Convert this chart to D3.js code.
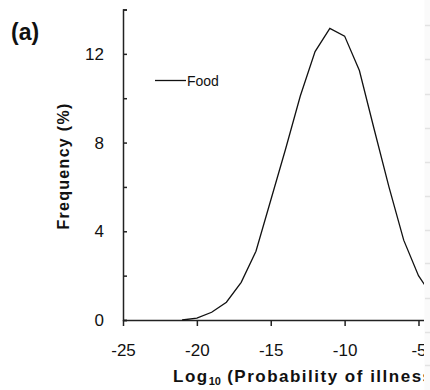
<!DOCTYPE html>
<html>
<head>
<meta charset="utf-8">
<script src="https://cdn.jsdelivr.net/npm/d3@7"></script>
<style>
  body { margin: 0; background: #fff; }
  svg { display: block; font-family: "Liberation Sans", Arial, sans-serif; }
</style>
</head>
<body>
<svg id="chart" width="430" height="390"></svg>
<script>
// log10 probability of illness (x) vs frequency % (y)
const logProb = [-21, -20, -19, -18, -17, -16, -15, -14, -13, -12, -11, -10, -9, -8, -7, -6, -5, -4];
const freq = [0, 0.08, 0.35, 0.8, 1.7, 3.1, 5.4, 7.7, 10.1, 12.1, 13.15, 12.8, 11.25, 8.6, 6.0, 3.6, 2.0, 1.0];
const xTicks = [-25, -20, -15, -10, -5];
const yTicks = [0, 2, 4, 6, 8, 10, 12, 14];
const seriesName = "Food";
// faint marks of the neighbouring panel at the right edge
const edgeMarks = [25, 59, 94, 128, 162, 196, 230, 263, 298, 332, 365];

const svg = d3.select("#chart");
const clipRight = 424;

const x = d3.scaleLinear().domain([-25, -4.6]).range([123, 424.4]);
const y = d3.scaleLinear().domain([0, 14]).range([320, 9.5]);

svg.append("defs").append("clipPath").attr("id", "clip")
  .append("rect").attr("x", 0).attr("y", 0).attr("width", clipRight).attr("height", 390);

const g = svg.append("g").attr("clip-path", "url(#clip)");

// x axis
const xAxis = g.append("g")
  .attr("transform", `translate(0,${y(0)})`)
  .call(d3.axisBottom(x).tickValues(xTicks).tickSize(6).tickSizeOuter(0).tickPadding(18)
    .tickFormat(d => String(d)));
xAxis.select(".domain").attr("stroke", "#222").attr("stroke-width", 1.5);
xAxis.selectAll(".tick line").attr("stroke", "#222").attr("stroke-width", 1.5);
xAxis.selectAll("text").attr("font-size", 17).attr("fill", "#111")
  .attr("font-family", "'Liberation Sans', Arial, sans-serif");

// y axis (ticks inward)
const yAxis = g.append("g")
  .attr("transform", `translate(${x(-25)},0)`)
  .call(d3.axisLeft(y).tickValues(yTicks).tickSize(-4).tickSizeOuter(-4).tickPadding(19)
    .tickFormat(d => d % 4 === 0 && d < 14 ? String(d) : ""));
yAxis.select(".domain").attr("stroke", "#222").attr("stroke-width", 1.5);
yAxis.selectAll(".tick line").attr("stroke", "#222").attr("stroke-width", 1.5);
yAxis.selectAll("text").attr("font-size", 17).attr("fill", "#111")
  .attr("font-family", "'Liberation Sans', Arial, sans-serif");

// curve
const line = d3.line().x((d, i) => x(logProb[i])).y(d => y(d));
g.append("path")
  .datum(freq)
  .attr("d", line)
  .attr("fill", "none")
  .attr("stroke", "#111")
  .attr("stroke-width", 1.3);

// legend
g.append("line").attr("x1", 155).attr("x2", 186).attr("y1", 80.5).attr("y2", 80.5)
  .attr("stroke", "#111").attr("stroke-width", 1.3);
g.append("text").attr("x", 187).attr("y", 86).attr("font-size", 14).attr("fill", "#111")
  .text(seriesName);

// panel letter
g.append("text").attr("x", 11).attr("y", 40).attr("font-size", 23).attr("font-weight", "bold")
  .attr("fill", "#111").text("(a)");

// y title
g.append("text")
  .attr("transform", "translate(69,166) rotate(-90)")
  .attr("text-anchor", "middle")
  .attr("font-size", 16).attr("font-weight", "bold").attr("letter-spacing", 1.3).attr("fill", "#111")
  .text("Frequency (%)");

// x title
const xt = g.append("text").attr("x", 173).attr("y", 382)
  .attr("font-size", 17).attr("font-weight", "bold").attr("letter-spacing", 1.5).attr("fill", "#111");
xt.append("tspan").text("Log");
xt.append("tspan").attr("font-size", 11).attr("dy", 3).attr("letter-spacing", 0).text("10");
xt.append("tspan").attr("dy", -3).text(" (Probability of illness)");

// right edge strip
svg.append("rect").attr("x", clipRight + 0.5).attr("y", 0).attr("width", 430 - clipRight).attr("height", 390)
  .attr("fill", "#fafafa");
svg.selectAll(".edge").data(edgeMarks).join("line")
  .attr("x1", clipRight + 1).attr("x2", 430).attr("y1", d => d + 0.5).attr("y2", d => d + 0.5)
  .attr("stroke", "#e2e2e2").attr("stroke-width", 1.5);
</script>
</body>
</html>
